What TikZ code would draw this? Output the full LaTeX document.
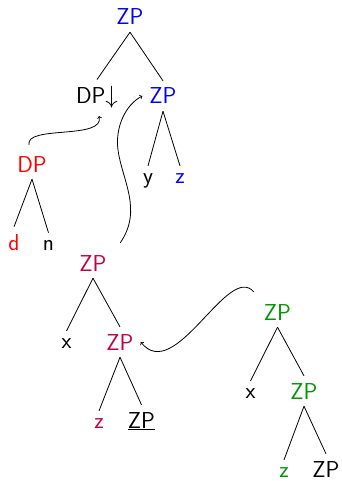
\documentclass[tikz,border=0pt]{standalone}
\usepackage{fontspec}
\definecolor{zpmag}{RGB}{195,0,70}
\definecolor{zpgreen}{RGB}{0,150,0}
\tikzset{
  tn/.style={font=\sffamily\fontsize{23}{27}\selectfont, inner sep=7pt, anchor=base},
  br/.style={line width=0.8pt},
  mv/.style={line width=0.8pt, ->}
}
\begin{document}
\begin{tikzpicture}[x=1pt,y=-1pt]
\useasboundingbox (0,0) rectangle (341,481);
% top tree
\node[tn,text=blue] (zpt) at (130,25) {ZP};
\node[tn] (dpd) at (97,104) {DP$\downarrow$};
\node[tn,text=blue] (zpb) at (163,104) {ZP};
\node[tn] (y1) at (148,183) {y};
\node[tn,text=blue] (z1) at (180,183) {z};
% DP tree
\node[tn,text=red] (dpr) at (32,172) {DP};
\node[tn,text=red] (d) at (14,250) {d};
\node[tn] (n) at (48.5,250) {n};
% magenta tree
\node[tn,text=zpmag] (zpm) at (93,271) {ZP};
\node[tn] (x1) at (66.5,348) {x};
\node[tn,text=zpmag] (zpm2) at (120,350) {ZP};
\node[tn,text=zpmag] (z2) at (99,428) {z};
\node[tn] (zpu) at (141.5,428) {\underline{ZP}};
% green tree
\node[tn,text=zpgreen] (zpg) at (277.5,320) {ZP};
\node[tn] (x2) at (250.5,398) {x};
\node[tn,text=zpgreen] (zpg2) at (304,399) {ZP};
\node[tn,text=zpgreen] (z3) at (284,477) {z};
\node[tn] (zpk) at (326,477) {ZP};
% branches
\draw[br] (zpt.south) -- (dpd.north);
\draw[br] (zpt.south) -- (zpb.north);
\draw[br] (zpb.south) -- (y1.north);
\draw[br] (zpb.south) -- (z1.north);
\draw[br] (dpr.south) -- (d.north);
\draw[br] (dpr.south) -- (n.north);
\draw[br] (zpm.south) -- (x1.north);
\draw[br] (zpm.south) -- (zpm2.north);
\draw[br] (zpm2.south) -- (z2.north);
\draw[br] (zpm2.south) -- (zpu.north);
\draw[br] (zpg.south) -- (x2.north);
\draw[br] (zpg.south) -- (zpg2.north);
\draw[br] (zpg2.south) -- (z3.north);
\draw[br] (zpg2.south) -- (zpk.north);
% movement arrows
\draw[mv] ([shift={(-3,-4)}]dpr.north) .. controls (25,125) and (105,140) .. ([xshift=2pt]dpd.south);
\draw[mv] ([shift={(6.5,-5)}]zpm.north east) .. controls (143,210) and (122,180) .. (118,150)
   .. controls (115,128) and (125,105) .. (zpb.west);
\draw[mv] ([shift={(-3,-5)}]zpg.north west) .. controls (228,262) and (175,385) .. (zpm2.east);
\end{tikzpicture}
\end{document}
